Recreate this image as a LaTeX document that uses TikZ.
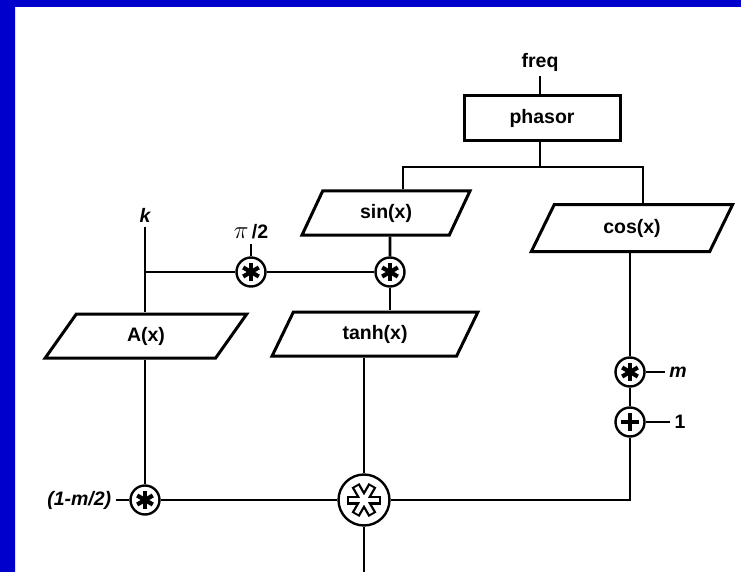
\documentclass[tikz,border=0pt]{standalone}
\usepackage{fontspec}
\setmainfont{Liberation Sans}
\usetikzlibrary{shapes.geometric}
\definecolor{frameblue}{HTML}{0000CC}
\begin{document}
\begin{tikzpicture}[x=1pt, y=-1pt, line width=2.9pt,
  every node/.style={font=\fontsize{19.5}{21}\selectfont\bfseries},
  lbl/.style={font=\fontsize{19.5}{21}\selectfont\bfseries\itshape},
  box/.style={draw, rectangle, line width=3pt, minimum width=156pt, minimum height=45pt},
  func/.style={draw, trapezium, trapezium left angle=65, trapezium right angle=115,
    trapezium stretches=true, line width=3pt, inner sep=0pt, minimum height=44pt},
  mul/.style={circle, draw, fill=white, line width=2.4pt, minimum size=29pt, inner sep=0pt,
    path picture={
      \foreach \a in {90,30,-30}
        \draw[line width=4.2pt] ([shift={(\a:9pt)}]path picture bounding box.center)
          -- ([shift={(\a+180:9pt)}]path picture bounding box.center);}},
  bigmul/.style={circle, draw, fill=white, line width=2.4pt, minimum size=51pt, inner sep=0pt,
    path picture={
      \foreach \a in {0,60,120}
        \draw[line width=9pt] ([shift={(\a:17pt)}]path picture bounding box.center)
          -- ([shift={(\a+180:17pt)}]path picture bounding box.center);
      \foreach \a in {0,60,120}
        \draw[line width=4.4pt, white] ([shift={(\a:15pt)}]path picture bounding box.center)
          -- ([shift={(\a+180:15pt)}]path picture bounding box.center);}},
  add/.style={circle, draw, fill=white, line width=2.4pt, minimum size=29pt, inner sep=0pt,
    path picture={
      \foreach \a in {0,90}
        \draw[line width=4.8pt] ([shift={(\a:9pt)}]path picture bounding box.center)
          -- ([shift={(\a+180:9pt)}]path picture bounding box.center);}}]
  \useasboundingbox (0,0) rectangle (741,572);
  \fill[frameblue] (0,0) rectangle (15,572) (0,0) rectangle (741,7);
  % blocks
  \node (freq) at (540,62) {freq};
  \node[box] (phasor) at (542,118) {phasor};
  \node[func, minimum width=168pt] (sin) at (386,213) {sin(x)};
  \node[func, minimum width=202pt, minimum height=47pt] (cos) at (632,228) {cos(x)};
  \node[func, minimum width=202pt] (A) at (146,336) {A(x)};
  \node[func, minimum width=206pt] (tanh) at (375,334) {tanh(x)};
  % operators
  \node[mul] (mulA) at (251,272) {};
  \node[mul] (mulB) at (390,272) {};
  \node[mul] (mulC) at (145,500) {};
  \node[mul] (mulD) at (630,372) {};
  \node[add] (plus) at (630,422) {};
  \node[bigmul] (big) at (364,500) {};
  % inputs
  \node[lbl] (k) at (145,215) {k};
  \node (pi) at (251,232) {{\fontsize{25}{25}\selectfont$\pi$}\,/2};
  \node[lbl] (m) at (678,372) {m};
  \node (one) at (680,422) {1};
  \node[lbl, anchor=east] (gain) at (116,500) {(1-m/2)};
  \coordinate (split) at (540,167);
  \coordinate (out) at (364,572);
  % wires
  \draw (freq) -- (freq |- phasor.north);
  \draw (phasor.south -| split) -- (split);
  \draw (split) -| ([xshift=17pt]sin.north);
  \draw (split) -| ([xshift=11pt]cos.north);
  \draw ([xshift=4pt]sin.south) -- (mulB);
  \draw (mulB) -- (mulB |- tanh.north);
  \draw (k) -- (k |- A.north);
  \draw (k |- mulA) -- (mulA) -- (mulB);
  \draw (pi) -- (mulA);
  \draw (A.south -| mulC) -- (mulC);
  \draw (gain) -- (mulC) -- (big) -- (out);
  \draw (tanh.south -| big) -- (big);
  \draw (cos.south -| mulD) -- (mulD) -- (plus) |- (big);
  \draw (mulD) -- (m);
  \draw (plus) -- (one);
\end{tikzpicture}
\end{document}
